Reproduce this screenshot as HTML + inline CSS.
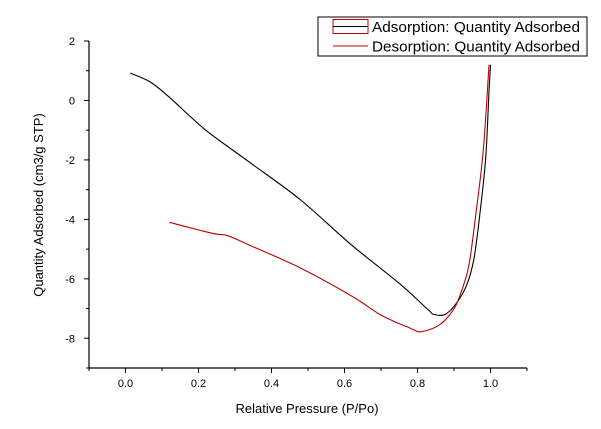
<!DOCTYPE html>
<html><head><meta charset="utf-8"><style>
body{margin:0;background:#fff;}
svg{display:block;font-family:"Liberation Sans",sans-serif;}
</style></head><body>
<svg width="601" height="429" viewBox="0 0 601 429">
<g id="axes"></g>
<g id="series"></g>
<text x="307" y="413" font-size="13" text-anchor="middle">Relative Pressure (P/Po)</text>
<text transform="translate(43,205) rotate(-90)" font-size="13" text-anchor="middle">Quantity Adsorbed (cm3/g STP)</text>
<g>
<rect x="318" y="17" width="269" height="39" fill="#fff" stroke="#000" stroke-width="1"/>
<rect x="333" y="19.5" width="35" height="14" fill="none" stroke="#c00000" stroke-width="1"/>
<line x1="333" y1="26.5" x2="368" y2="26.5" stroke="#000" stroke-width="1"/>
<text x="372" y="32" font-size="15" textLength="208" lengthAdjust="spacingAndGlyphs">Adsorption: Quantity Adsorbed</text>
<line x1="333" y1="46" x2="368" y2="46" stroke="#c00000" stroke-width="1"/>
<text x="372" y="51.5" font-size="15" textLength="208" lengthAdjust="spacingAndGlyphs">Desorption: Quantity Adsorbed</text>
</g>
</svg>
<script>
const xTicks=[0.0,0.2,0.4,0.6,0.8,1.0];
const xTickLabels=["0.0","0.2","0.4","0.6","0.8","1.0"];
const yTicks=[2,0,-2,-4,-6,-8];
const yTickLabels=["2","0","-2","-4","-6","-8"];
const adsX=[0.013,0.068,0.12,0.22,0.34,0.48,0.62,0.75,0.83,0.845,0.875,0.905,0.935,0.955,0.972,0.987,0.996,1.0];
const adsY=[0.92,0.62,0.11,-1.0,-2.08,-3.35,-4.87,-6.15,-7.05,-7.2,-7.2,-6.85,-6.2,-5.3,-3.7,-1.9,0.3,1.2];
const desX=[0.12,0.205,0.25,0.28,0.34,0.48,0.62,0.70,0.78,0.81,0.86,0.895,0.915,0.94,0.958,0.98,0.996];
const desY=[-4.1,-4.37,-4.5,-4.55,-4.87,-5.64,-6.58,-7.22,-7.66,-7.78,-7.55,-7.1,-6.6,-5.6,-4.0,-1.7,1.2];
const X0=-0.1,X1=1.1,Y0=-9,Y1=2;
const PL=89,PR=527,PT=41,PB=368;
const sx=v=>PL+(v-X0)/(X1-X0)*(PR-PL);
const sy=v=>PB-(v-Y0)/(Y1-Y0)*(PB-PT);
const NS="http://www.w3.org/2000/svg";
const axes=document.getElementById('axes'),series=document.getElementById('series');
function mk(t,a,p){const e=document.createElementNS(NS,t);for(const k in a)e.setAttribute(k,a[k]);p.appendChild(e);return e;}
const xa=mk('line',{x1:PL,y1:PB,x2:PR,y2:PB,stroke:'#000','stroke-width':1.2},axes);


const ya=mk('line',{x1:PL,y1:PT,x2:PL,y2:PB,stroke:'#000','stroke-width':1.2},axes);


for(let v=-0.1;v<=1.1001;v+=0.1){const x=sx(v);const major=Math.abs(Math.round(v*10)%2)===0;mk('line',{x1:x,y1:PB,x2:x,y2:PB+(major?5:3),stroke:'#000'},axes);}
xTicks.forEach((v,i)=>{const t=mk('text',{x:sx(v),y:PB+19,'font-size':11,'text-anchor':'middle'},axes);t.textContent=xTickLabels[i];

});
for(let v=-9;v<=2;v++){const y=sy(v);const major=v%2===0;mk('line',{x1:PL,y1:y,x2:PL-(major?5:3),y2:y,stroke:'#000'},axes);}
yTicks.forEach((v,i)=>{const t=mk('text',{x:PL-14,y:sy(v)+4,'font-size':11,'text-anchor':'end'},axes);t.textContent=yTickLabels[i];

});
function path(xs,ys,col,name){
const P=xs.map((x,i)=>[sx(x),sy(ys[i])]);
let d='M'+P[0][0].toFixed(1)+','+P[0][1].toFixed(1);
for(let i=0;i<P.length-1;i++){const p0=P[Math.max(i-1,0)],p1=P[i],p2=P[i+1],p3=P[Math.min(i+2,P.length-1)];
const c1=[p1[0]+(p2[0]-p0[0])/6,p1[1]+(p2[1]-p0[1])/6],c2=[p2[0]-(p3[0]-p1[0])/6,p2[1]-(p3[1]-p1[1])/6];
d+='C'+c1.map(v=>v.toFixed(1)).join(',')+' '+c2.map(v=>v.toFixed(1)).join(',')+' '+p2[0].toFixed(1)+','+p2[1].toFixed(1);}
const p=mk('path',{d:d,fill:'none',stroke:col,'stroke-width':1.1,'stroke-linejoin':'round'},series);

}
path(adsX,adsY,'#000','adsorption-line');
path(desX,desY,'#c00000','desorption-line');
</script>
</body></html>
